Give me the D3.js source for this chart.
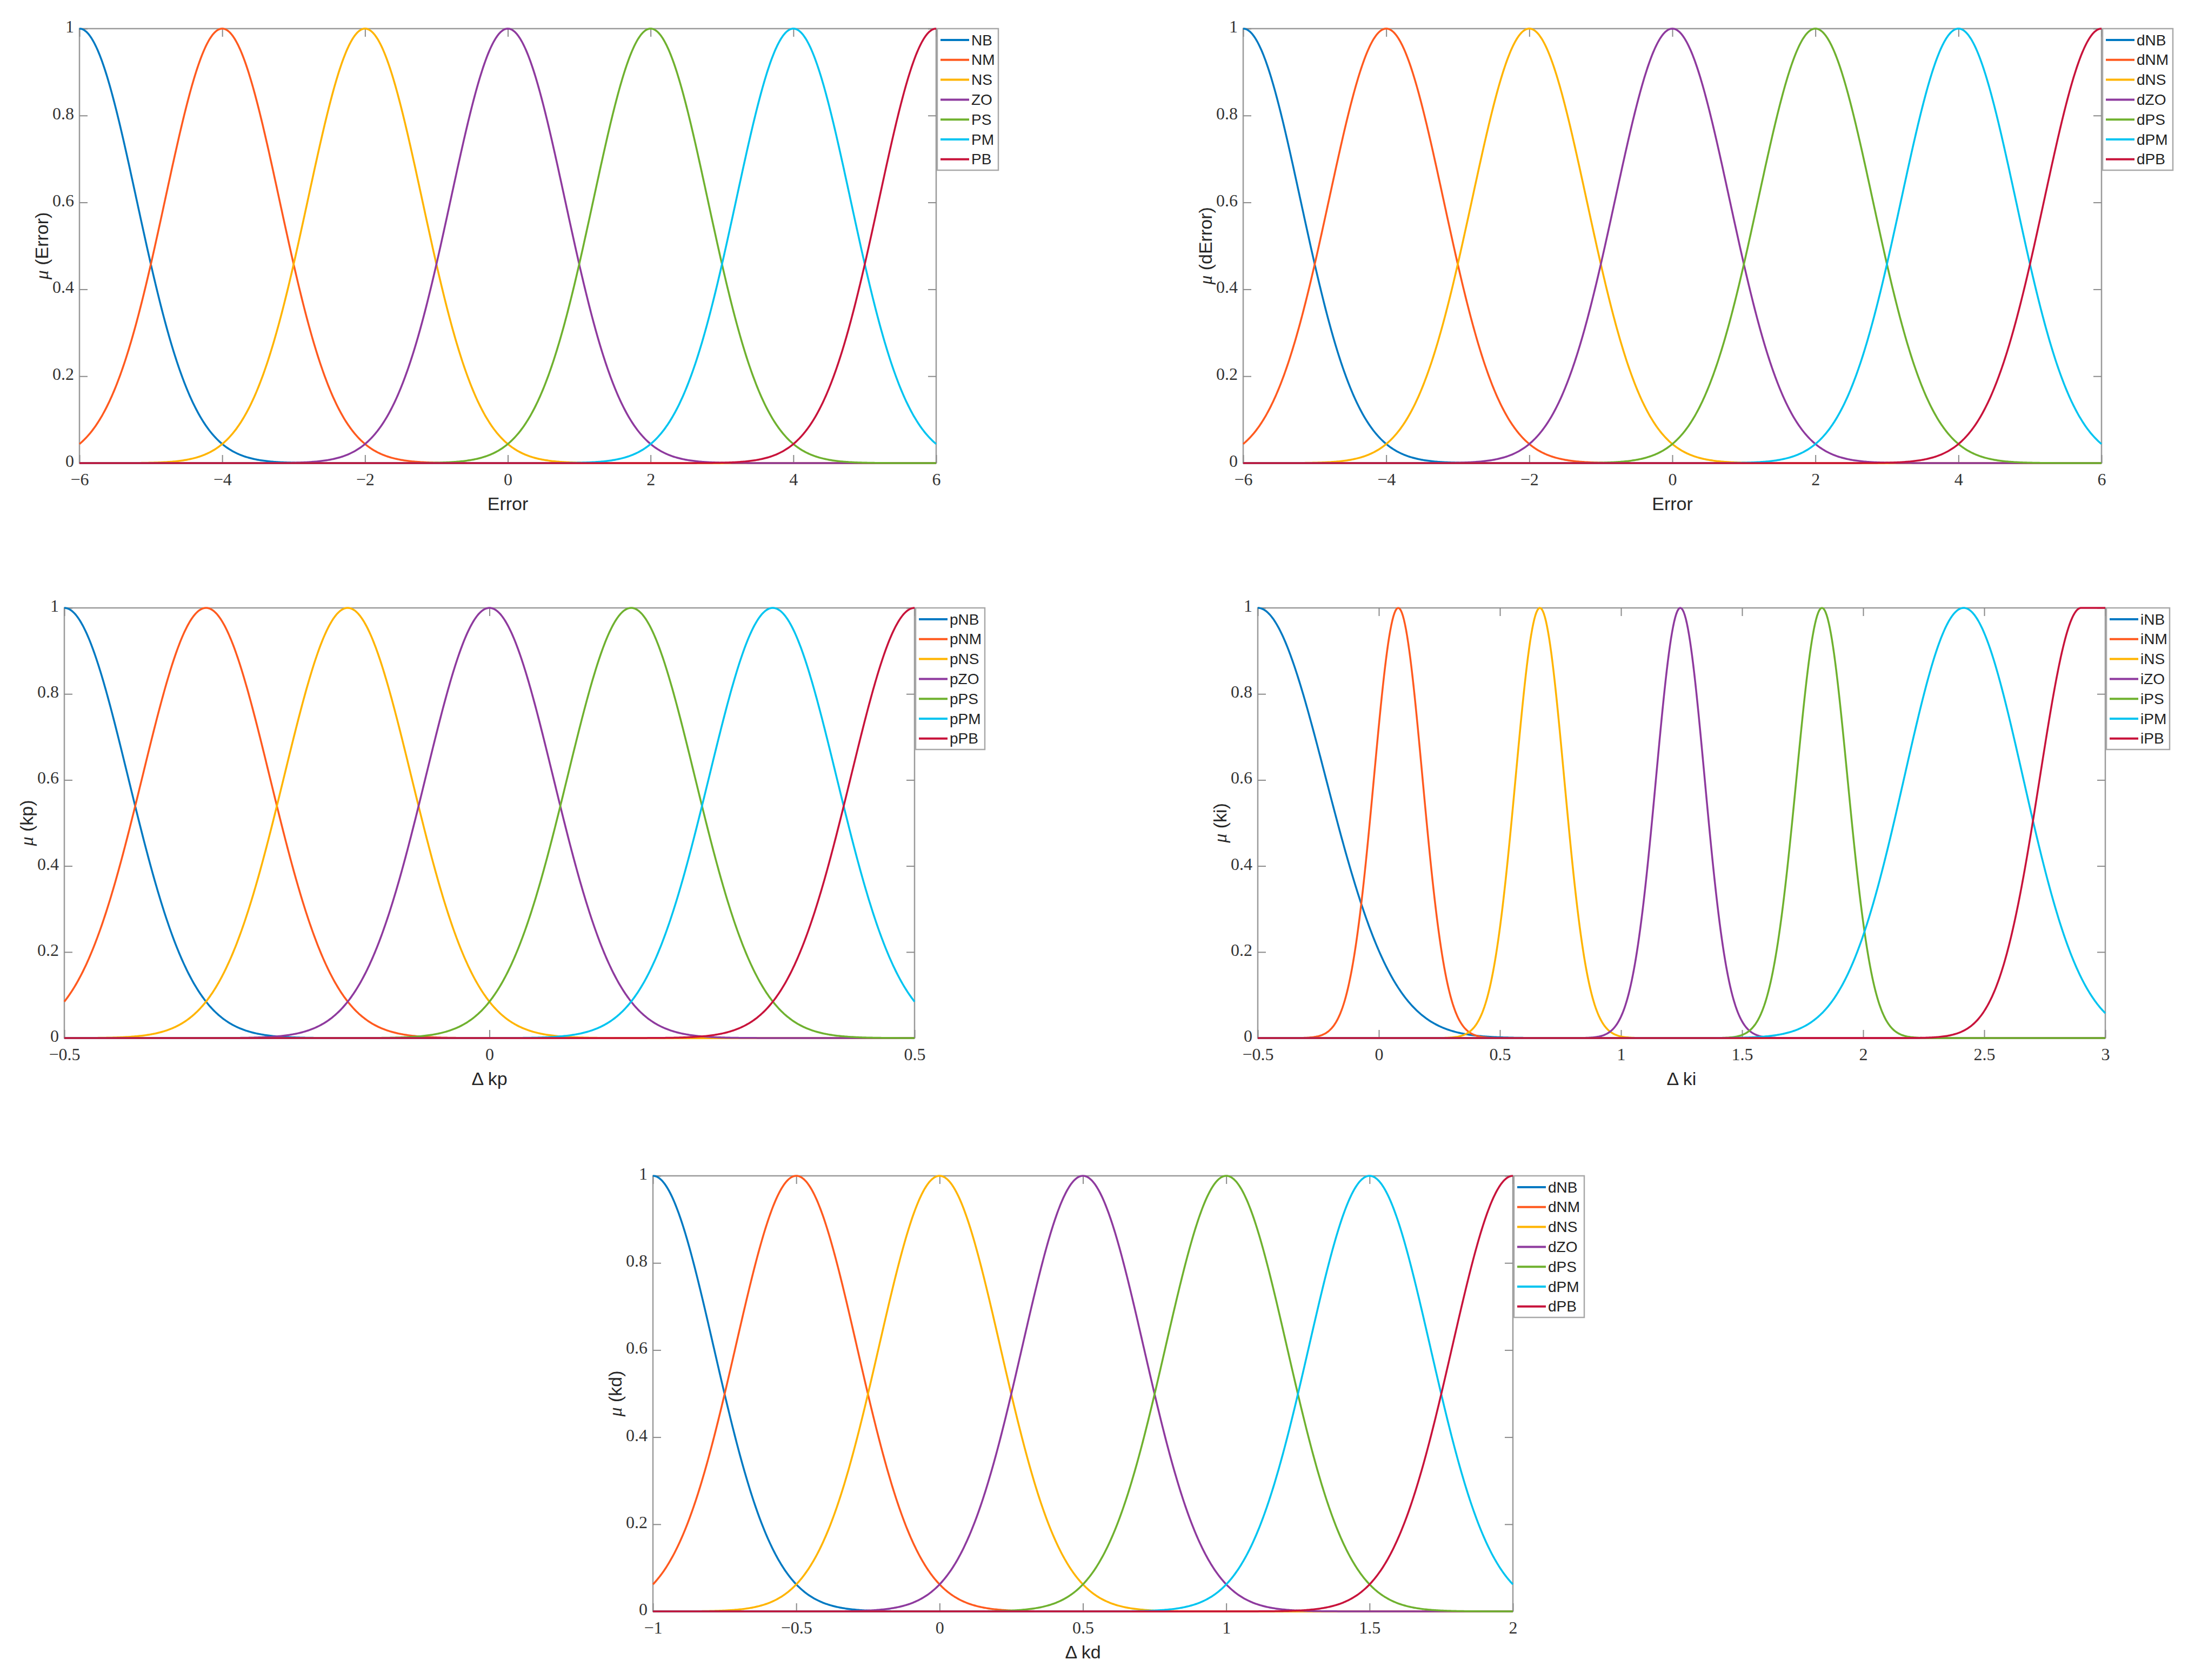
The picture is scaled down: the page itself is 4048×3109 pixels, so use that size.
<!DOCTYPE html>
<html>
<head>
<meta charset="utf-8">
<script src="https://cdn.jsdelivr.net/npm/d3@7"></script>
<style>
body{margin:0;background:#fff;}
</style>
</head>
<body>
<svg id="chart"></svg>
<script>
// line colours, NB..PB
var colorArr = ["#0079c2","#ff5a1f","#ffb400","#8e3a9e","#6fb12f","#00c4f0","#c8133b"];
var muTicks = [0,0.2,0.4,0.6,0.8,1];

// Error
var errNames   = ["NB","NM","NS","ZO","PS","PM","PB"];
var errCenters = [-6,-4,-2,0,2,4,6];
var errSigmas  = [0.8,0.8,0.8,0.8,0.8,0.8,0.8];
var errTicks   = [-6,-4,-2,0,2,4,6];

// dError
var derrNames   = ["dNB","dNM","dNS","dZO","dPS","dPM","dPB"];
var derrCenters = [-6,-4,-2,0,2,4,6];
var derrSigmas  = [0.8,0.8,0.8,0.8,0.8,0.8,0.8];
var derrTicks   = [-6,-4,-2,0,2,4,6];

// delta kp
var kpNames   = ["pNB","pNM","pNS","pZO","pPS","pPM","pPB"];
var kpCenters = [-0.5,-0.3333,-0.1667,0,0.1667,0.3333,0.5];
var kpSigmas  = [0.075,0.075,0.075,0.075,0.075,0.075,0.075];
var kpTicks   = [-0.5,0,0.5];

// delta ki (last one has a flat top from its centre to kiFlatEnd)
var kiNames   = ["iNB","iNM","iNS","iZO","iPS","iPM","iPB"];
var kiCenters = [-0.5,0.08,0.665,1.245,1.83,2.415,2.9];
var kiSigmas  = [0.28,0.1,0.1,0.1,0.105,0.245,0.17];
var kiFlatEnd = [-0.5,0.08,0.665,1.245,1.83,2.415,3.5];
var kiTicks   = [-0.5,0,0.5,1,1.5,2,2.5,3];

// delta kd
var kdNames   = ["dNB","dNM","dNS","dZO","dPS","dPM","dPB"];
var kdCenters = [-1,-0.5,0,0.5,1,1.5,2];
var kdSigmas  = [0.212,0.212,0.212,0.212,0.212,0.212,0.212];
var kdTicks   = [-1,-0.5,0,0.5,1,1.5,2];

var svg = d3.select("#chart").attr("width",4048).attr("height",3109);

var panels = [
  {x0:147, y0:53, x1:1732, y1:857, names:errNames, centers:errCenters, sigmas:errSigmas, flat:errCenters, ticks:errTicks, xlab:"Error", ylab:"(Error)", legW:113},
  {x0:2300, y0:53, x1:3888, y1:857, names:derrNames, centers:derrCenters, sigmas:derrSigmas, flat:derrCenters, ticks:derrTicks, xlab:"Error", ylab:"(dError)", legW:130},
  {x0:119, y0:1125, x1:1692, y1:1921, names:kpNames, centers:kpCenters, sigmas:kpSigmas, flat:kpCenters, ticks:kpTicks, xlab:"\u0394 kp", ylab:"(kp)", legW:128},
  {x0:2327, y0:1125, x1:3895, y1:1921, names:kiNames, centers:kiCenters, sigmas:kiSigmas, flat:kiFlatEnd, ticks:kiTicks, xlab:"\u0394 ki", ylab:"(ki)", legW:117},
  {x0:1208, y0:2176, x1:2799, y1:2982, names:kdNames, centers:kdCenters, sigmas:kdSigmas, flat:kdCenters, ticks:kdTicks, xlab:"\u0394 kd", ylab:"(kd)", legW:130}
];

function fmt(d){
  return d < 0 ? "\u2212" + Math.abs(d) : String(d);
}

function mf(x,c,s,c2){
  var d = 0;
  if (x < c) d = x - c;
  else if (x > c2) d = x - c2;
  return Math.exp(-d*d/(2*s*s));
}

panels.forEach(drawPanel);

function drawPanel(p){
  var lo = p.ticks[0], hi = p.ticks[p.ticks.length-1];
  var x = d3.scaleLinear().domain([lo,hi]).range([p.x0,p.x1]);
  var y = d3.scaleLinear().domain([0,1]).range([p.y1,p.y0]);
  var g = svg.append("g");

  // box
  g.append("rect")
   .attr("x",p.x0).attr("y",p.y0)
   .attr("width",p.x1-p.x0).attr("height",p.y1-p.y0)
   .attr("fill","none").attr("stroke","#9a9a9a").attr("stroke-width",2.5);

  var axB = g.append("g").attr("transform","translate(0,"+p.y1+")")
     .call(d3.axisBottom(x).tickValues(p.ticks).tickSize(-15).tickPadding(18).tickFormat(fmt));
  var axT = g.append("g").attr("transform","translate(0,"+p.y0+")")
     .call(d3.axisTop(x).tickValues(p.ticks).tickSize(-15).tickFormat(""));
  var axL = g.append("g").attr("transform","translate("+p.x0+",0)")
     .call(d3.axisLeft(y).tickValues(muTicks).tickSize(-15).tickPadding(10).tickFormat(fmt));
  var axR = g.append("g").attr("transform","translate("+p.x1+",0)")
     .call(d3.axisRight(y).tickValues(muTicks).tickSize(-15).tickFormat(""));
  [axB,axT,axL,axR].forEach(function(a){
    a.select(".domain").remove();
    a.selectAll(".tick line").attr("stroke","#8a8a8a").attr("stroke-width",2);
    a.selectAll(".tick text").attr("font-family","'Liberation Serif', serif")
     .attr("font-size","32px").attr("fill","#333");
  });
  axL.selectAll(".tick text").attr("dy","0.2em");

  // curves
  var xs = d3.range(0,801).map(function(i){ return lo + (hi-lo)*i/800; });
  var line = d3.line().x(function(d){return x(d[0]);}).y(function(d){return y(d[1]);});
  p.names.forEach(function(n,i){
    var pts = xs.map(function(v){ return [v, mf(v,p.centers[i],p.sigmas[i],p.flat[i])]; });
    g.append("path").datum(pts)
     .attr("d",line).attr("fill","none")
     .attr("stroke",colorArr[i]).attr("stroke-width",3.5)
     .attr("stroke-linejoin","round");
  });

  // labels
  g.append("text")
   .attr("x",(p.x0+p.x1)/2).attr("y",p.y1+75)
   .attr("text-anchor","middle").attr("dominant-baseline","central")
   .attr("font-family","'Liberation Sans', Arial, sans-serif").attr("font-size","34px")
   .attr("fill","#262626").text(p.xlab);

  var yl = g.append("text")
   .attr("transform","translate("+(p.x0-70)+","+((p.y0+p.y1)/2)+") rotate(-90)")
   .attr("text-anchor","middle").attr("dominant-baseline","central")
   .attr("font-family","'Liberation Sans', Arial, sans-serif").attr("font-size","34px")
   .attr("fill","#262626");
  yl.append("tspan").attr("font-family","'Liberation Serif', serif").attr("font-style","italic").text("\u03bc");
  yl.append("tspan").text(" " + p.ylab);

  // legend
  var lx = p.x1 + 2, ly = p.y0, rowH = 36.8;
  g.append("rect")
   .attr("x",lx).attr("y",ly).attr("width",p.legW).attr("height",262)
   .attr("fill","#fff").attr("stroke","#a8a8a8").attr("stroke-width",2.5);
  p.names.forEach(function(n,i){
    var cy = ly + 21 + i*rowH;
    g.append("line")
     .attr("x1",lx+6).attr("x2",lx+59).attr("y1",cy).attr("y2",cy)
     .attr("stroke",colorArr[i]).attr("stroke-width",4);
    g.append("text")
     .attr("x",lx+63).attr("y",cy).attr("dominant-baseline","central")
     .attr("font-family","'Liberation Sans', Arial, sans-serif").attr("font-size","28px")
     .attr("fill","#222").text(n);
  });
}
</script>
</body>
</html>
